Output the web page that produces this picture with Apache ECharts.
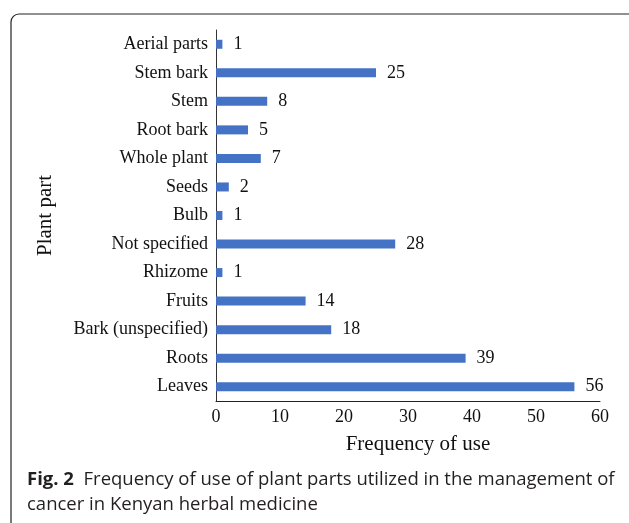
<!DOCTYPE html>
<html>
<head>
<meta charset="utf-8">
<script src="https://cdn.jsdelivr.net/npm/echarts@6/dist/echarts.min.js"></script>
<style>
  html, body { margin: 0; padding: 0; background: #fff; }
  #main { width: 629px; height: 523px; }
</style>
</head>
<body>
<div id="main"></div>
<script>
// plant parts, bottom to top as in the figure
const parts = ['Leaves', 'Roots', 'Bark (unspecified)', 'Fruits', 'Rhizome', 'Not specified',
  'Bulb', 'Seeds', 'Whole plant', 'Root bark', 'Stem', 'Stem bark', 'Aerial parts'];
const freq = [56, 39, 18, 14, 1, 28, 1, 2, 7, 5, 8, 25, 1];
const xTicks = [0, 10, 20, 30, 40, 50, 60];

const serif = 'Liberation Serif';
let chart = echarts.init(document.getElementById('main'));

let option = {
  animation: false,
  grid: { left: 216, top: 30, width: 384, height: 371 },
  xAxis: {
    type: 'value',
    min: xTicks[0],
    max: xTicks[xTicks.length - 1],
    interval: 10,
    splitLine: { show: false },
    axisLine: { show: true, lineStyle: { color: '#222', width: 1 } },
    axisTick: { show: false },
    axisLabel: { color: '#111', fontFamily: serif, fontSize: 18, margin: 7 },
    name: 'Frequency of use',
    nameLocation: 'middle',
    nameGap: 33,
    // the name sits a little right of the axis centre in the figure
    nameTextStyle: { color: '#111', fontFamily: serif, fontSize: 21, padding: [0, 0, 0, 20] }
  },
  yAxis: {
    type: 'category',
    data: parts,
    axisLine: { show: true, lineStyle: { color: '#333', width: 1 } },
    axisTick: { show: false },
    axisLabel: { color: '#111', fontFamily: serif, fontSize: 18, margin: 8 },
    name: 'Plant part',
    nameLocation: 'middle',
    nameGap: 160,
    nameTextStyle: { color: '#111', fontFamily: serif, fontSize: 21 }
  },
  series: [{
    type: 'bar',
    data: freq,
    barWidth: 9,
    itemStyle: { color: '#4472C4' },
    label: {
      show: true,
      position: 'right',
      distance: 11,
      color: '#111',
      fontFamily: serif,
      fontSize: 18
    }
  }],
  graphic: [
    {
      // frame round the figure; right and bottom edges fall outside the page
      type: 'rect',
      shape: { x: 11, y: 14, width: 800, height: 700, r: [8, 0, 0, 0] },
      style: { fill: 'transparent', stroke: '#222', lineWidth: 1.2 },
      silent: true
    },
    {
      type: 'text',
      left: 27,
      top: 467,
      style: {
        text: '{b|Fig. 2}  Frequency of use of plant parts utilized in the management of\ncancer in Kenyan herbal medicine',
        fontFamily: 'Open Sans',
        fontSize: 18.5,
        lineHeight: 25,
        fill: '#231f20',
        rich: {
          b: { fontFamily: 'Open Sans', fontWeight: 'bold', fontSize: 18.5, fill: '#231f20', lineHeight: 25 }
        }
      }
    }
  ]
};

chart.setOption(option);
window.addEventListener('resize', () => {
  chart.resize();
});
</script>
</body>
</html>
